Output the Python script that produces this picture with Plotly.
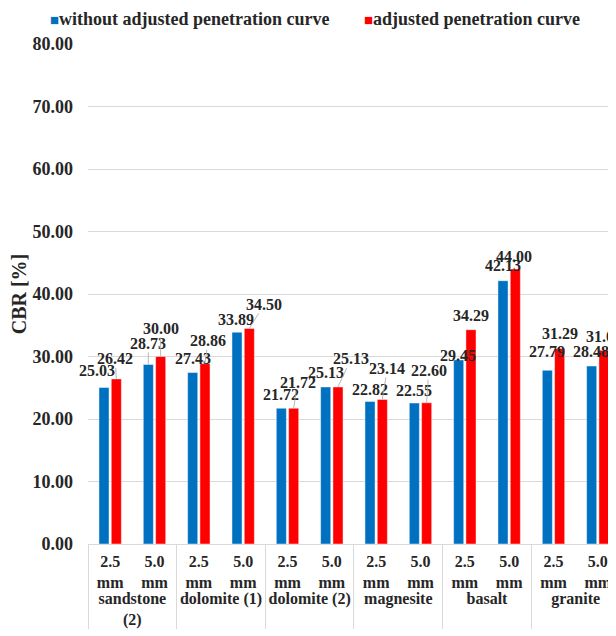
import plotly.graph_objects as go

# ---------------- data ----------------
rocks = ["sandstone<br>(2)", "dolomite (1)", "dolomite (2)", "magnesite", "basalt", "granite"]
depths = ["2.5<br>mm", "5.0<br>mm"]
without_adjusted = [25.03, 28.73, 27.43, 33.89, 21.72, 25.13, 22.82, 22.55, 29.45, 42.13, 27.79, 28.48]
adjusted = [26.42, 30.00, 28.86, 34.50, 21.72, 25.13, 23.14, 22.60, 34.29, 44.00, 31.29, 31.00]
y_tick_values = [0, 10, 20, 30, 40, 50, 60, 70, 80]
series_names = ["without adjusted penetration curve", "adjusted penetration curve"]

# ---------------- styling ----------------
BLUE = "#0070C0"
RED = "#FF0000"
TXT = "#262626"
GRID = "#d9d9d9"
FONT = "Liberation Serif"

# label offsets in pixels (dx, dy above bar top) and leader-line flags
blue_off = [(-7, 17), (0, 21), (0, 14), (-1, 13), (0, 14), (0, 14), (0, 12), (0, 13), (-1, 4), (0, 15), (0, 19), (-1, 15)]
red_off = [(-1, 20), (0, 28), (3, 23), (15, 24), (4, 26), (13, 28), (5, 31), (2, 32), (0, 14), (-1, 13), (0, 15), (0, 14)]
blue_leader = [False, True] + [False] * 10
red_leader = [True] * 8 + [False] * 4

BARGAP = 0.445
BARGROUPGAP = 0.18
XRANGE = [-0.5, 11.41]

xg = [r for r in rocks for _ in depths]
xd = [d for _ in rocks for d in depths]

fig = go.Figure()
for name, vals, col in [(series_names[0], without_adjusted, BLUE), (series_names[1], adjusted, RED)]:
    fig.add_trace(go.Bar(
        x=[xg, xd], y=vals, name=name,
        marker=dict(color=col, line=dict(color="rgba(255,255,255,0.45)", width=1)),
        showlegend=False,
    ))

# data labels via annotations on an invisible numeric overlay axis
off = (1 - BARGAP) / 4
annotations = []
for i in range(len(without_adjusted)):
    for vals, offs, leads, sign in [(without_adjusted, blue_off, blue_leader, -1),
                                    (adjusted, red_off, red_leader, 1)]:
        dx, dy = offs[i]
        annotations.append(dict(
            x=i + sign * off, y=vals[i], xref="x2", yref="y",
            text=f"{vals[i]:.2f}", showarrow=True, arrowhead=0,
            arrowwidth=0.8, standoff=0, startstandoff=0,
            arrowcolor="#a6a6a6" if leads[i] else "rgba(0,0,0,0)",
            ax=dx, ay=-dy, axref="pixel", ayref="pixel",
            font=dict(family=FONT, size=16, color=TXT, weight="bold"),
            borderpad=0,
        ))

# page body has an 8px default margin; compensate so the plot sits where the reference has it
PAGE = 8
W, H = 616 - PAGE, 636 - PAGE
ML, MR, MT, MB = 88 - PAGE, 0, 44 - PAGE, 92
pw = W - ML - MR

# legend drawn as annotations (square marker right before text)
legend_items = [(series_names[0], BLUE, 48), (series_names[1], RED, 362)]
for name, col, px in legend_items:
    annotations.append(dict(
        x=(px - PAGE - ML) / pw, y=1, xref="paper", yref="paper",
        xanchor="left", yanchor="middle", yshift=(44 - 19),
        text=f'<span style="color:{col};font-size:15px">■</span>{name}',
        showarrow=False,
        font=dict(family=FONT, size=18, color=TXT, weight="bold"),
    ))

fig.update_layout(
    width=W, height=H,
    margin=dict(l=ML, r=MR, t=MT, b=MB, autoexpand=False),
    paper_bgcolor="white", plot_bgcolor="white",
    barmode="group", bargap=BARGAP, bargroupgap=BARGROUPGAP,
    showlegend=False,
    font=dict(family=FONT, color=TXT),
    xaxis=dict(
        type="multicategory", range=XRANGE, automargin=False,
        showline=True, linecolor=GRID, linewidth=1,
        showdividers=True, dividercolor=GRID, dividerwidth=1,
        ticks="", showgrid=False, ticklabelstandoff=3,
        tickfont=dict(family=FONT, size=16, color=TXT, weight="bold"),
    ),
    xaxis2=dict(overlaying="x", range=XRANGE, visible=False, anchor="y", automargin=False),
    yaxis=dict(
        range=[0, 80], tickvals=y_tick_values, tickformat=".2f", automargin=False,
        showgrid=True, gridcolor=GRID, gridwidth=1, zeroline=False,
        showline=False, ticks="", ticklabelstandoff=14,
        tickfont=dict(family=FONT, size=18, color=TXT, weight="bold"),
        title=dict(text="CBR [%]", standoff=2,
                   font=dict(family=FONT, size=20, color=TXT, weight="bold")),
    ),
    annotations=annotations,
)

fig.write_html("out.html")
